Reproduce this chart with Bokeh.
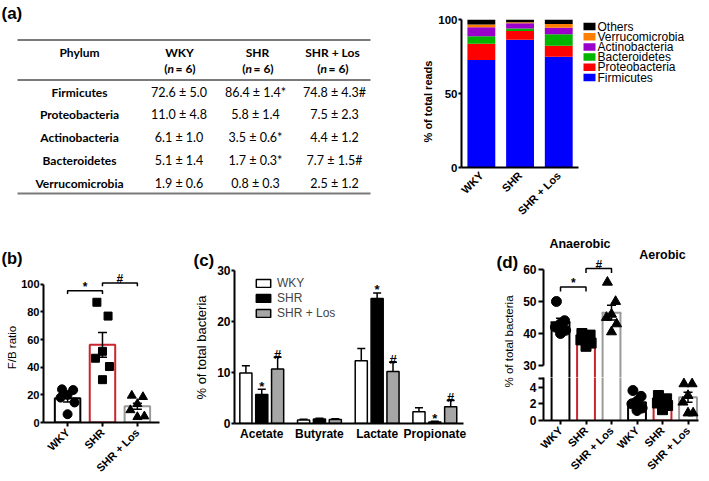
import math
from bokeh.plotting import figure
from bokeh.models import Range1d, FixedTicker, ColumnDataSource
from bokeh.layouts import row, column
from bokeh.embed import file_html
from bokeh.resources import INLINE
from bokeh.core.properties import value

# ---------------- data ----------------
GROUPS = ["WKY", "SHR", "SHR + Los"]
N_PER_GROUP = [6, 6, 6]

TABLE_PHYLA = ["Firmicutes", "Proteobacteria", "Actinobacteria", "Bacteroidetes", "Verrucomicrobia"]
WKY_MEAN = [72.6, 11.0, 6.1, 5.1, 1.9]
WKY_SEM = [5.0, 4.8, 1.0, 1.4, 0.6]
SHR_MEAN = [86.4, 5.8, 3.5, 1.7, 0.8]
SHR_SEM = [1.4, 1.4, 0.6, 0.3, 0.3]
LOS_MEAN = [74.8, 7.5, 4.4, 7.7, 2.5]
LOS_SEM = [4.3, 2.3, 1.2, 1.5, 1.2]
WKY_SIG = ["", "", "", "", ""]
SHR_SIG = ["*", "", "*", "*", ""]
LOS_SIG = ["#", "", "", "#", ""]
OTHERS = [3.3, 1.8, 3.1]

STACK_ORDER = ["Firmicutes", "Proteobacteria", "Bacteroidetes", "Actinobacteria", "Verrucomicrobia", "Others"]
STACK_COLORS = ["#0000ff", "#ff0000", "#00b400", "#9a00cc", "#ff8000", "#000000"]

FB_WKY = [24, 23.5, 20, 18, 14.5, 6]
FB_SHR = [87, 77, 51.5, 46.5, 40.5, 31]
FB_LOS = [19.5, 18.5, 13.5, 9, 4.5, 4]
FB_MEAN = [17.6, 56.2, 11.8]
FB_SEM = [2.8, 9.0, 2.2]
FB_BRACKETS = [(1, 2, 95.4, "*"), (2, 3, 101.0, "#")]

SCFA = ["Acetate", "Butyrate", "Lactate", "Propionate"]
SCFA_WKY = [9.9, 0.7, 12.3, 2.3]
SCFA_WKY_SEM = [1.4, 0.15, 2.4, 0.8]
SCFA_SHR = [5.7, 0.9, 24.5, 0.3]
SCFA_SHR_SEM = [1.0, 0.15, 1.1, 0.15]
SCFA_LOS = [10.7, 0.8, 10.2, 3.3]
SCFA_LOS_SEM = [2.3, 0.15, 1.8, 1.2]
SCFA_WKY_SIG = ["", "", "", ""]
SCFA_SHR_SIG = ["*", "", "*", "*"]
SCFA_LOS_SIG = ["#", "", "#", "#"]

ANA_WKY = [50, 44, 43, 42, 41, 40]
ANA_SHR = [40, 39.5, 38.5, 38, 37, 36]
ANA_LOS = [56, 50, 46, 45, 43, 40.5]
ANA_MEAN = [43.5, 38.2, 46.5]
ANA_SEM = [1.3, 0.8, 2.3]
AER_WKY = [3.6, 2.9, 2.3, 2.0, 1.5, 1.2]
AER_SHR = [3.0, 2.6, 2.3, 2.1, 1.8, 1.3]
AER_LOS = [4.4, 4.4, 3.0, 2.2, 0.9, 0.9]
AER_MEAN = [2.2, 2.2, 2.8]
AER_SEM = [0.4, 0.2, 0.6]
ANA_BRACKETS = [(1, 2, 54.5, "*"), (2, 3, 60.3, "#")]

# ---------------- style ----------------
ARIAL = "Liberation Sans"
CAL = "Lato"
BAR_LINE = ["black", "#c8262c", "#9a9a9a"]
MARKERS = ["circle", "square", "triangle"]
JIT = [-0.16, 0.16, 0.0, -0.2, 0.2, 0.0]


def base_fig(w, h, xr, yr, left=0, right=0, top=0, bottom=0, xaxis=True, yaxis=True):
    p = figure(width=w, height=h, x_range=xr, y_range=yr, output_backend="svg",
               toolbar_location=None, min_border_left=left, min_border_right=right,
               min_border_top=top, min_border_bottom=bottom,
               x_axis_location="below" if xaxis else None,
               y_axis_location="left" if yaxis else None)
    try:
        p.frame_align = False
    except Exception:
        pass
    p.outline_line_color = None
    p.grid.visible = False
    p.background_fill_color = "white"
    p.border_fill_color = "white"
    return p


def text_fig(x0, x1, y0, y1):
    # a plain drawing area whose data coordinates are page pixels
    return base_fig(x1 - x0, y1 - y0, Range1d(x0, x1), Range1d(y1, y0), xaxis=False, yaxis=False)


def put_text(p, x, y, t, size, style="normal", align="center", baseline="middle", angle=0.0, font=ARIAL,
             **kw):
    p.text(x=[x], y=[y], text=[t], text_font=value(font), text_font_size=size, text_font_style=style,
           text_align=align, text_baseline=baseline, angle=angle, text_color="black", **kw)


def style_axis(ax, size="11px", tick_out=3, lw=2, standoff=2):
    ax.axis_line_width = lw
    ax.axis_line_color = "black"
    ax.major_tick_line_width = lw
    ax.major_tick_line_color = "black" if tick_out > 0 else None
    ax.major_tick_out = tick_out
    ax.major_tick_in = 0
    ax.minor_tick_line_color = None
    ax.major_label_text_font = ARIAL
    ax.major_label_text_font_size = size
    ax.major_label_text_font_style = "bold"
    ax.major_label_text_color = "black"
    ax.major_label_standoff = standoff


def err_bars(p, xs, lo, hi, cap=9, lw=1.5, lower_cap=True):
    p.segment(x0=xs, y0=lo, x1=xs, y1=hi, line_color="black", line_width=lw)
    p.scatter(x=xs, y=hi, marker="dash", size=cap, line_color="black", line_width=lw)
    if lower_cap:
        p.scatter(x=xs, y=lo, marker="dash", size=cap, line_color="black", line_width=lw)


def brackets(p, specs, leg, size="12px"):
    xs = [[a, a, b, b] for a, b, h, s in specs]
    ys = [[h - leg, h, h, h - leg] for a, b, h, s in specs]
    p.multi_line(xs=xs, ys=ys, line_color="black", line_width=1.5)
    p.text(x=[(a + b) / 2 for a, b, h, s in specs], y=[h for a, b, h, s in specs],
           text=[s for a, b, h, s in specs], text_align="center", text_baseline="alphabetic",
           y_offset=-4, text_font=value(ARIAL), text_font_size=size, text_font_style="bold")


def cat_axis(ax, ticks, labels, size, tick_out, standoff, rotate):
    ax.ticker = FixedTicker(ticks=ticks)
    ax.major_label_overrides = {t: l for t, l in zip(ticks, labels)}
    style_axis(ax, size=size, tick_out=tick_out, standoff=standoff)
    if rotate:
        ax.major_label_orientation = math.pi / 4


# ================= top row (y 0..228) =================
# ---- (a) table (drawing area also carries the stacked chart's y title) ----
tab = text_fig(0, 435, 0, 228)
put_text(tab, 1, 3, "(a)", "17px", "bold", align="left", baseline="top")
RULES_Y = [39.5, 79.5, 193]
tab.segment(x0=[17] * 3, y0=RULES_Y, x1=[370] * 3, y1=RULES_Y, line_color="#7a7a7a", line_width=2)
HEAD_X = [79, 179, 257, 332]
VAL_X = [178.5, 255, 334]
HEAD_Y, NROW_Y, ROW_Y0, ROW_DY = 52, 68, 91.7, 22.75
tb = dict(text_font=value(CAL), text_font_size="12px", text_baseline="middle", text_font_style="bold")
tr = dict(text_font=value(CAL), text_font_size="12.5px", text_baseline="middle", text_font_style="normal")
tab.text(x=HEAD_X, y=[HEAD_Y] * 4, text=["Phylum"] + GROUPS, text_align="center", **tb)
tab.text(x=HEAD_X[1:], y=[NROW_Y] * 3, text=["("] * 3, x_offset=-12, text_align="right", **tb)
tb_it = dict(tb, text_font_style="bold italic")
tab.text(x=HEAD_X[1:], y=[NROW_Y] * 3, text=["n"] * 3, x_offset=-12, text_align="left", **tb_it)
tab.text(x=HEAD_X[1:], y=[NROW_Y] * 3, text=[" = %d)" % n for n in N_PER_GROUP], x_offset=-4,
         text_align="left", **tb)
row_y = [ROW_Y0 + i * ROW_DY for i in range(len(TABLE_PHYLA))]
tab.text(x=[HEAD_X[0]] * len(TABLE_PHYLA), y=row_y, text=TABLE_PHYLA, text_align="center", **tb)
for cx, (m, s, g) in zip(VAL_X, [(WKY_MEAN, WKY_SEM, WKY_SIG), (SHR_MEAN, SHR_SEM, SHR_SIG),
                                 (LOS_MEAN, LOS_SEM, LOS_SIG)]):
    cells = ["%.1f \u00b1 %.1f%s" % (a, b, c) for a, b, c in zip(m, s, g)]
    tab.text(x=[cx] * len(cells), y=row_y, text=cells, text_align="center", **tr)
put_text(tab, 427, 101, "% of total reads", "11px", "bold", angle=math.pi / 2)

# ---- (a) stacked bars ----
st = base_fig(145, 228, Range1d(0.487, 3.51), Range1d(0, 100), left=25, right=2, top=19, bottom=61)
means_by = {n: [WKY_MEAN[i], SHR_MEAN[i], LOS_MEAN[i]] for i, n in enumerate(TABLE_PHYLA)}
means_by["Others"] = OTHERS
src = ColumnDataSource(dict(x=[1, 2, 3], **{n: means_by[n] for n in STACK_ORDER}))
st.vbar_stack(STACK_ORDER, x="x", width=0.72, fill_color=STACK_COLORS, line_color=None, source=src)
st.yaxis.ticker = FixedTicker(ticks=[0, 50, 100])
style_axis(st.yaxis[0], size="11.5px", tick_out=3, standoff=1)
cat_axis(st.xaxis[0], [1, 2, 3], GROUPS, "11px", 0, 6, True)

# ---- legend ----
lg = text_fig(580, 709, 0, 228)
LEG_Y0, LEG_DY = 26, 10.2
leg_names = STACK_ORDER[::-1]
leg_cols = STACK_COLORS[::-1]
leg_y = [LEG_Y0 + i * LEG_DY for i in range(len(leg_names))]
lg.rect(x=[589] * len(leg_names), y=leg_y, width=12, height=7.5, fill_color=leg_cols, line_color=None)
lg.text(x=[597] * len(leg_names), y=leg_y, text=leg_names, text_font=value(ARIAL),
        text_font_size="12px", text_align="left", text_baseline="middle")

# ================= bottom row (y 228..481) =================
# ---- (b) F/B ratio ----
head_b = text_fig(0, 185, 228, 268)
put_text(head_b, 1, 248, "(b)", "16.5px", "bold", align="left", baseline="top")
gut_b = text_fig(0, 18, 268, 481)
put_text(gut_b, 11.5, 347, "F/B ratio", "11.5px", angle=math.pi / 2)
pb = base_fig(167, 213, Range1d(0.31, 3.634), Range1d(0, 111.43), left=23, right=26, top=0, bottom=57)
X3 = [1, 2, 3]
pb.vbar(x=X3, top=FB_MEAN, width=0.73, fill_color="white", line_color=BAR_LINE, line_width=2)
for k, vals in enumerate([FB_WKY, FB_SHR, FB_LOS]):
    pb.scatter(x=[X3[k] + j for j in JIT], y=vals, marker=MARKERS[k], size=9 if k != 1 else 8,
               fill_color="black", line_color="black")
err_bars(pb, X3, [m - s for m, s in zip(FB_MEAN, FB_SEM)], [m + s for m, s in zip(FB_MEAN, FB_SEM)], cap=9)
brackets(pb, FB_BRACKETS, leg=2.4)
pb.yaxis.ticker = FixedTicker(ticks=[0, 20, 40, 60, 80, 100])
pb.yaxis.bounds = (0, 100)
style_axis(pb.yaxis[0], size="11px", tick_out=3, standoff=1)
cat_axis(pb.xaxis[0], X3, GROUPS, "11px", 4, 4, True)
block_b = column(head_b, row(gut_b, pb))

# ---- (c) SCFA producers ----
gut_c = text_fig(185, 214, 228, 481)
put_text(gut_c, 193, 250, "(c)", "17px", "bold", align="left", baseline="top")
put_text(gut_c, 201, 347, "% of total bacteria", "13px", angle=math.pi / 2)
pc = base_fig(276, 253, Range1d(-0.4725, 3.497), Range1d(0, 30), left=18, right=27, top=42, bottom=58)
OFFS = [-0.275, 0.0, 0.275]
FILLS = ["white", "black", "#a6a6a6"]
idx = list(range(len(SCFA)))
for k, (m, s, g) in enumerate([(SCFA_WKY, SCFA_WKY_SEM, SCFA_WKY_SIG), (SCFA_SHR, SCFA_SHR_SEM, SCFA_SHR_SIG),
                               (SCFA_LOS, SCFA_LOS_SEM, SCFA_LOS_SIG)]):
    xs = [i + OFFS[k] for i in idx]
    hi = [a + b for a, b in zip(m, s)]
    err_bars(pc, xs, m, hi, cap=8, lw=1.5, lower_cap=False)
    pc.vbar(x=xs, top=m, width=0.21, fill_color=FILLS[k], line_color="black", line_width=1.5,
            legend_label=GROUPS[k])
    pc.text(x=xs, y=hi, text=g, text_align="center", text_baseline="alphabetic", y_offset=-3,
            text_font=value(ARIAL), text_font_size="13px", text_font_style="bold")
pc.yaxis.ticker = FixedTicker(ticks=[0, 10, 20, 30])
style_axis(pc.yaxis[0], size="12px", tick_out=3, standoff=1)
cat_axis(pc.xaxis[0], idx, SCFA, "12px", 0, 3, False)
pc.legend.location = (20, 103)
pc.legend.label_text_font = ARIAL
pc.legend.label_text_font_size = "12px"
pc.legend.glyph_width = 18
pc.legend.glyph_height = 10
pc.legend.label_height = 10
pc.legend.spacing = 1
pc.legend.padding = 0
pc.legend.margin = 0
pc.legend.label_standoff = 5
pc.legend.border_line_color = None
pc.legend.background_fill_alpha = 0
block_c = row(gut_c, pc)

# ---- (d) anaerobic / aerobic (broken y axis) ----
gut_d = text_fig(490, 518, 228, 481)
put_text(gut_d, 496, 252, "(d)", "17px", "bold", align="left", baseline="top")
put_text(gut_d, 508.5, 341, "% of total bacteria", "11.5px", angle=math.pi / 2)
XA = [1, 2, 3]
XB = [4, 5, 6]
BW_D = 0.7
HALF_D = BW_D / 2
xr_d = Range1d(0.333, 6.411)
up_d = base_fig(191, 149, xr_d, Range1d(26.25, 72.81), left=25, right=11, top=0, bottom=0, xaxis=False)
low_d = base_fig(191, 104, xr_d, Range1d(0, 5.165), left=25, right=11, top=0, bottom=61)

# anaerobic bars run through the axis break: white fill + open outlines (sides, and top in the upper part)
for p in (up_d, low_d):
    p.vbar(x=XA, top=ANA_MEAN, bottom=0, width=BW_D, fill_color="white", line_color=None)
    p.segment(x0=[x - HALF_D for x in XA] + [x + HALF_D for x in XA], y0=[0] * 6,
              x1=[x - HALF_D for x in XA] + [x + HALF_D for x in XA], y1=ANA_MEAN + ANA_MEAN,
              line_color=BAR_LINE + BAR_LINE, line_width=2)
up_d.segment(x0=[x - HALF_D for x in XA], y0=ANA_MEAN, x1=[x + HALF_D for x in XA], y1=ANA_MEAN,
             line_color=BAR_LINE, line_width=2, line_cap="square")
low_d.vbar(x=XB, top=AER_MEAN, bottom=0, width=BW_D, fill_color="white", line_color=BAR_LINE, line_width=2)

for k in range(3):
    up_d.scatter(x=[XA[k] + j for j in JIT], y=[ANA_WKY, ANA_SHR, ANA_LOS][k], marker=MARKERS[k],
                 size=10, fill_color="black", line_color="black")
    low_d.scatter(x=[XB[k] + j for j in JIT], y=[AER_WKY, AER_SHR, AER_LOS][k], marker=MARKERS[k],
                  size=10, fill_color="black", line_color="black")
err_bars(up_d, XA, [m - s for m, s in zip(ANA_MEAN, ANA_SEM)], [m + s for m, s in zip(ANA_MEAN, ANA_SEM)], cap=9)
err_bars(low_d, XB, [m - s for m, s in zip(AER_MEAN, AER_SEM)], [m + s for m, s in zip(AER_MEAN, AER_SEM)], cap=9)
brackets(up_d, ANA_BRACKETS, leg=1.4)
put_text(up_d, 2, 68.1, "Anaerobic", "12.5px", "bold", x_offset=-6)
put_text(up_d, 5, 64.4, "Aerobic", "12.5px", "bold")
up_d.yaxis.ticker = FixedTicker(ticks=[30, 40, 50, 60])
up_d.yaxis.bounds = (30, 60)
style_axis(up_d.yaxis[0], size="12px", tick_out=5)
low_d.yaxis.ticker = FixedTicker(ticks=[0, 2, 4, 5.1])
low_d.yaxis.major_label_overrides = {5.1: ""}
style_axis(low_d.yaxis[0], size="12px", tick_out=5)
cat_axis(low_d.xaxis[0], XA + XB, GROUPS + GROUPS, "11px", 4, 4, True)
block_d = row(gut_d, column(up_d, low_d))

layout = column(row(tab, st, lg), row(block_b, block_c, block_d))
open("out.html", "w").write(file_html(layout, INLINE))
